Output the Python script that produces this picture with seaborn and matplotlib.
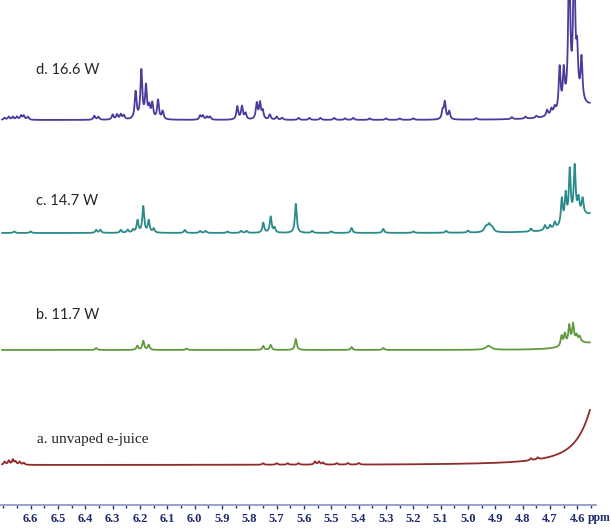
import numpy as np
import pandas as pd
import seaborn as sns
import matplotlib.pyplot as plt

# peak lists: position (ppm), height (px above baseline), half width (ppm)
d_ppm = [6.695, 6.68, 6.665, 6.65, 6.635, 6.625, 6.61, 6.367, 6.352,
         6.30, 6.284, 6.27, 6.259,
         6.216, 6.195, 6.178, 6.166, 6.155, 6.134, 6.117,
         5.98, 5.97, 5.955, 5.944,
         5.844, 5.827, 5.814,
         5.773, 5.761, 5.751, 5.725, 5.70, 5.68,
         5.62, 5.58, 5.54, 5.49, 5.45, 5.42, 5.36, 5.30, 5.25, 5.20,
         5.093, 5.085, 5.069, 4.97, 4.84, 4.79, 4.75,
         4.711, 4.695, 4.683,
         4.665, 4.65, 4.63, 4.612, 4.601, 4.585,
         4.60, 4.53]
d_height = [2, 3, 3, 3, 4, 4, 3, 4, 3,
            5, 5, 5, 4,
            27, 48, 32, 11, 15, 19, 8,
            4, 4, 3, 3,
            13, 13, 6,
            16, 16, 8, 5, 3, 2,
            2, 2, 2, 2, 1.5, 2, 1.5, 1.5, 1.5, 1.5,
            8, 17, 8, 1.5, 2, 2, 2,
            6, 6, 6,
            43, 36, 160, 160, 43, 42,
            14, 12]
d_width = [0.004] * 59 + [0.05, 0.03]

c_ppm = [6.66, 6.60, 6.36, 6.345, 6.27, 6.245, 6.225,
         6.209, 6.188, 6.168, 6.15,
         6.036, 5.98, 5.96, 5.88, 5.83, 5.81,
         5.749, 5.722, 5.708, 5.63, 5.57, 5.50,
         5.426, 5.31, 5.20, 5.08, 5.0,
         4.935, 4.923, 4.912,
         4.77, 4.719, 4.70, 4.683,
         4.657, 4.643, 4.628, 4.61, 4.596, 4.581,
         4.59, 4.53]
c_height = [1.5, 1.5, 3, 3, 3, 3, 3,
            12, 26, 12, 4,
            3, 2, 2, 1.5, 2, 2,
            10, 16, 5, 29, 2, 1.5,
            5, 4, 1.5, 2, 2,
            5, 7, 4,
            3, 5, 4, 6,
            26, 28, 50, 50, 15, 15,
            15, 15]
c_width = [0.004] * 28 + [0.007, 0.007, 0.007] + [0.004] * 10 + [0.05, 0.03]

b_ppm = [6.36, 6.21, 6.188, 6.168, 6.03,
         5.749, 5.722, 5.63, 5.426, 5.31,
         4.925,
         4.658, 4.646, 4.63, 4.616, 4.603, 4.592,
         4.60, 4.53]
b_height = [2, 4, 9, 5, 1.5,
            4, 5, 11, 3, 2,
            4,
            10, 11, 18, 18, 6, 5,
            7, 6]
b_width = [0.004] * 10 + [0.012] + [0.004] * 6 + [0.05, 0.03]

a_ppm = [6.695, 6.68, 6.665, 6.655, 6.64, 6.625,
         5.75, 5.70, 5.66, 5.62,
         5.56, 5.545, 5.53, 5.48, 5.44, 5.40,
         4.77, 4.745,
         4.50]
a_height = [3, 4, 5, 3, 3, 2,
            1.5, 1.5, 1.5, 1.5,
            3, 3, 2, 1.5, 1.5, 1.5,
            2, 2,
            100]
a_width = [0.004] * 18 + [0.06]

labels = ["d. 16.6 W", "c. 14.7 W", "b. 11.7 W", "a. unvaped e-juice"]
colors = ["#4b3b9c", "#2a8b8b", "#5f9b3f", "#902c2c"]
offsets = [385, 272, 155, 40]   # baseline height of each trace
label_y = [435, 304, 190, 65]

ppm = np.linspace(6.705, 4.554, 5000)


def spectrum(centers, heights, widths):
    y = np.zeros_like(ppm)
    for c, h, w in zip(centers, heights, widths):
        y += h * w ** 2 / ((ppm - c) ** 2 + w ** 2)
    return y


traces = [(d_ppm, d_height, d_width), (c_ppm, c_height, c_width),
          (b_ppm, b_height, b_width), (a_ppm, a_height, a_width)]

sns.set_theme(style="white")
fig = plt.figure(figsize=(6.11, 5.30), dpi=100)
ax = fig.add_axes([0, 25 / 530, 596 / 611, 505 / 530])

for (cs, hs, ws), off, col in zip(traces, offsets, colors):
    df = pd.DataFrame({"ppm": ppm, "y": spectrum(cs, hs, ws) + off})
    sns.lineplot(data=df, x="ppm", y="y", color=col, lw=1.3,
                 estimator=None, sort=False, ax=ax)

for i, (lab, ly) in enumerate(zip(labels, label_y)):
    if i < 3:
        ax.text(6.58, ly, lab, fontsize=10.5, family="Lato", va="center")
    else:
        ax.text(6.575, ly, lab, fontsize=11, family="Liberation Serif", va="center")

ax.set_xlim(6.712, 4.532)
ax.set_ylim(0, 505)
ax.set_xlabel("")
ax.set_ylabel("")
ax.set_yticks([])
for s in ["top", "left", "right"]:
    ax.spines[s].set_visible(False)
ax.spines["bottom"].set_color("#8f98c8")
ax.spines["bottom"].set_linewidth(1.3)

major = np.round(np.arange(6.6, 4.55, -0.1), 1)
ax.set_xticks(major)
ax.set_xticklabels([f"{v:.1f}" for v in major])
ax.set_xticks(np.round(np.arange(6.70, 4.53, -0.05), 2), minor=True)
ax.tick_params(axis="x", which="both", direction="out", color="#2b3170",
               bottom=True, labelsize=9, pad=3, labelcolor="#1f2a6e")
ax.tick_params(axis="x", which="major", length=3, width=1)
ax.tick_params(axis="x", which="minor", length=2, width=1)
for t in ax.get_xticklabels():
    t.set_family("Liberation Serif")
    t.set_weight("bold")

fig.text(0.999, 12 / 530, "ppm", ha="right", va="center", fontsize=8.5,
         family="Liberation Serif", weight="bold", color="#1f2a6e")

fig.savefig("out.png", dpi=100)
